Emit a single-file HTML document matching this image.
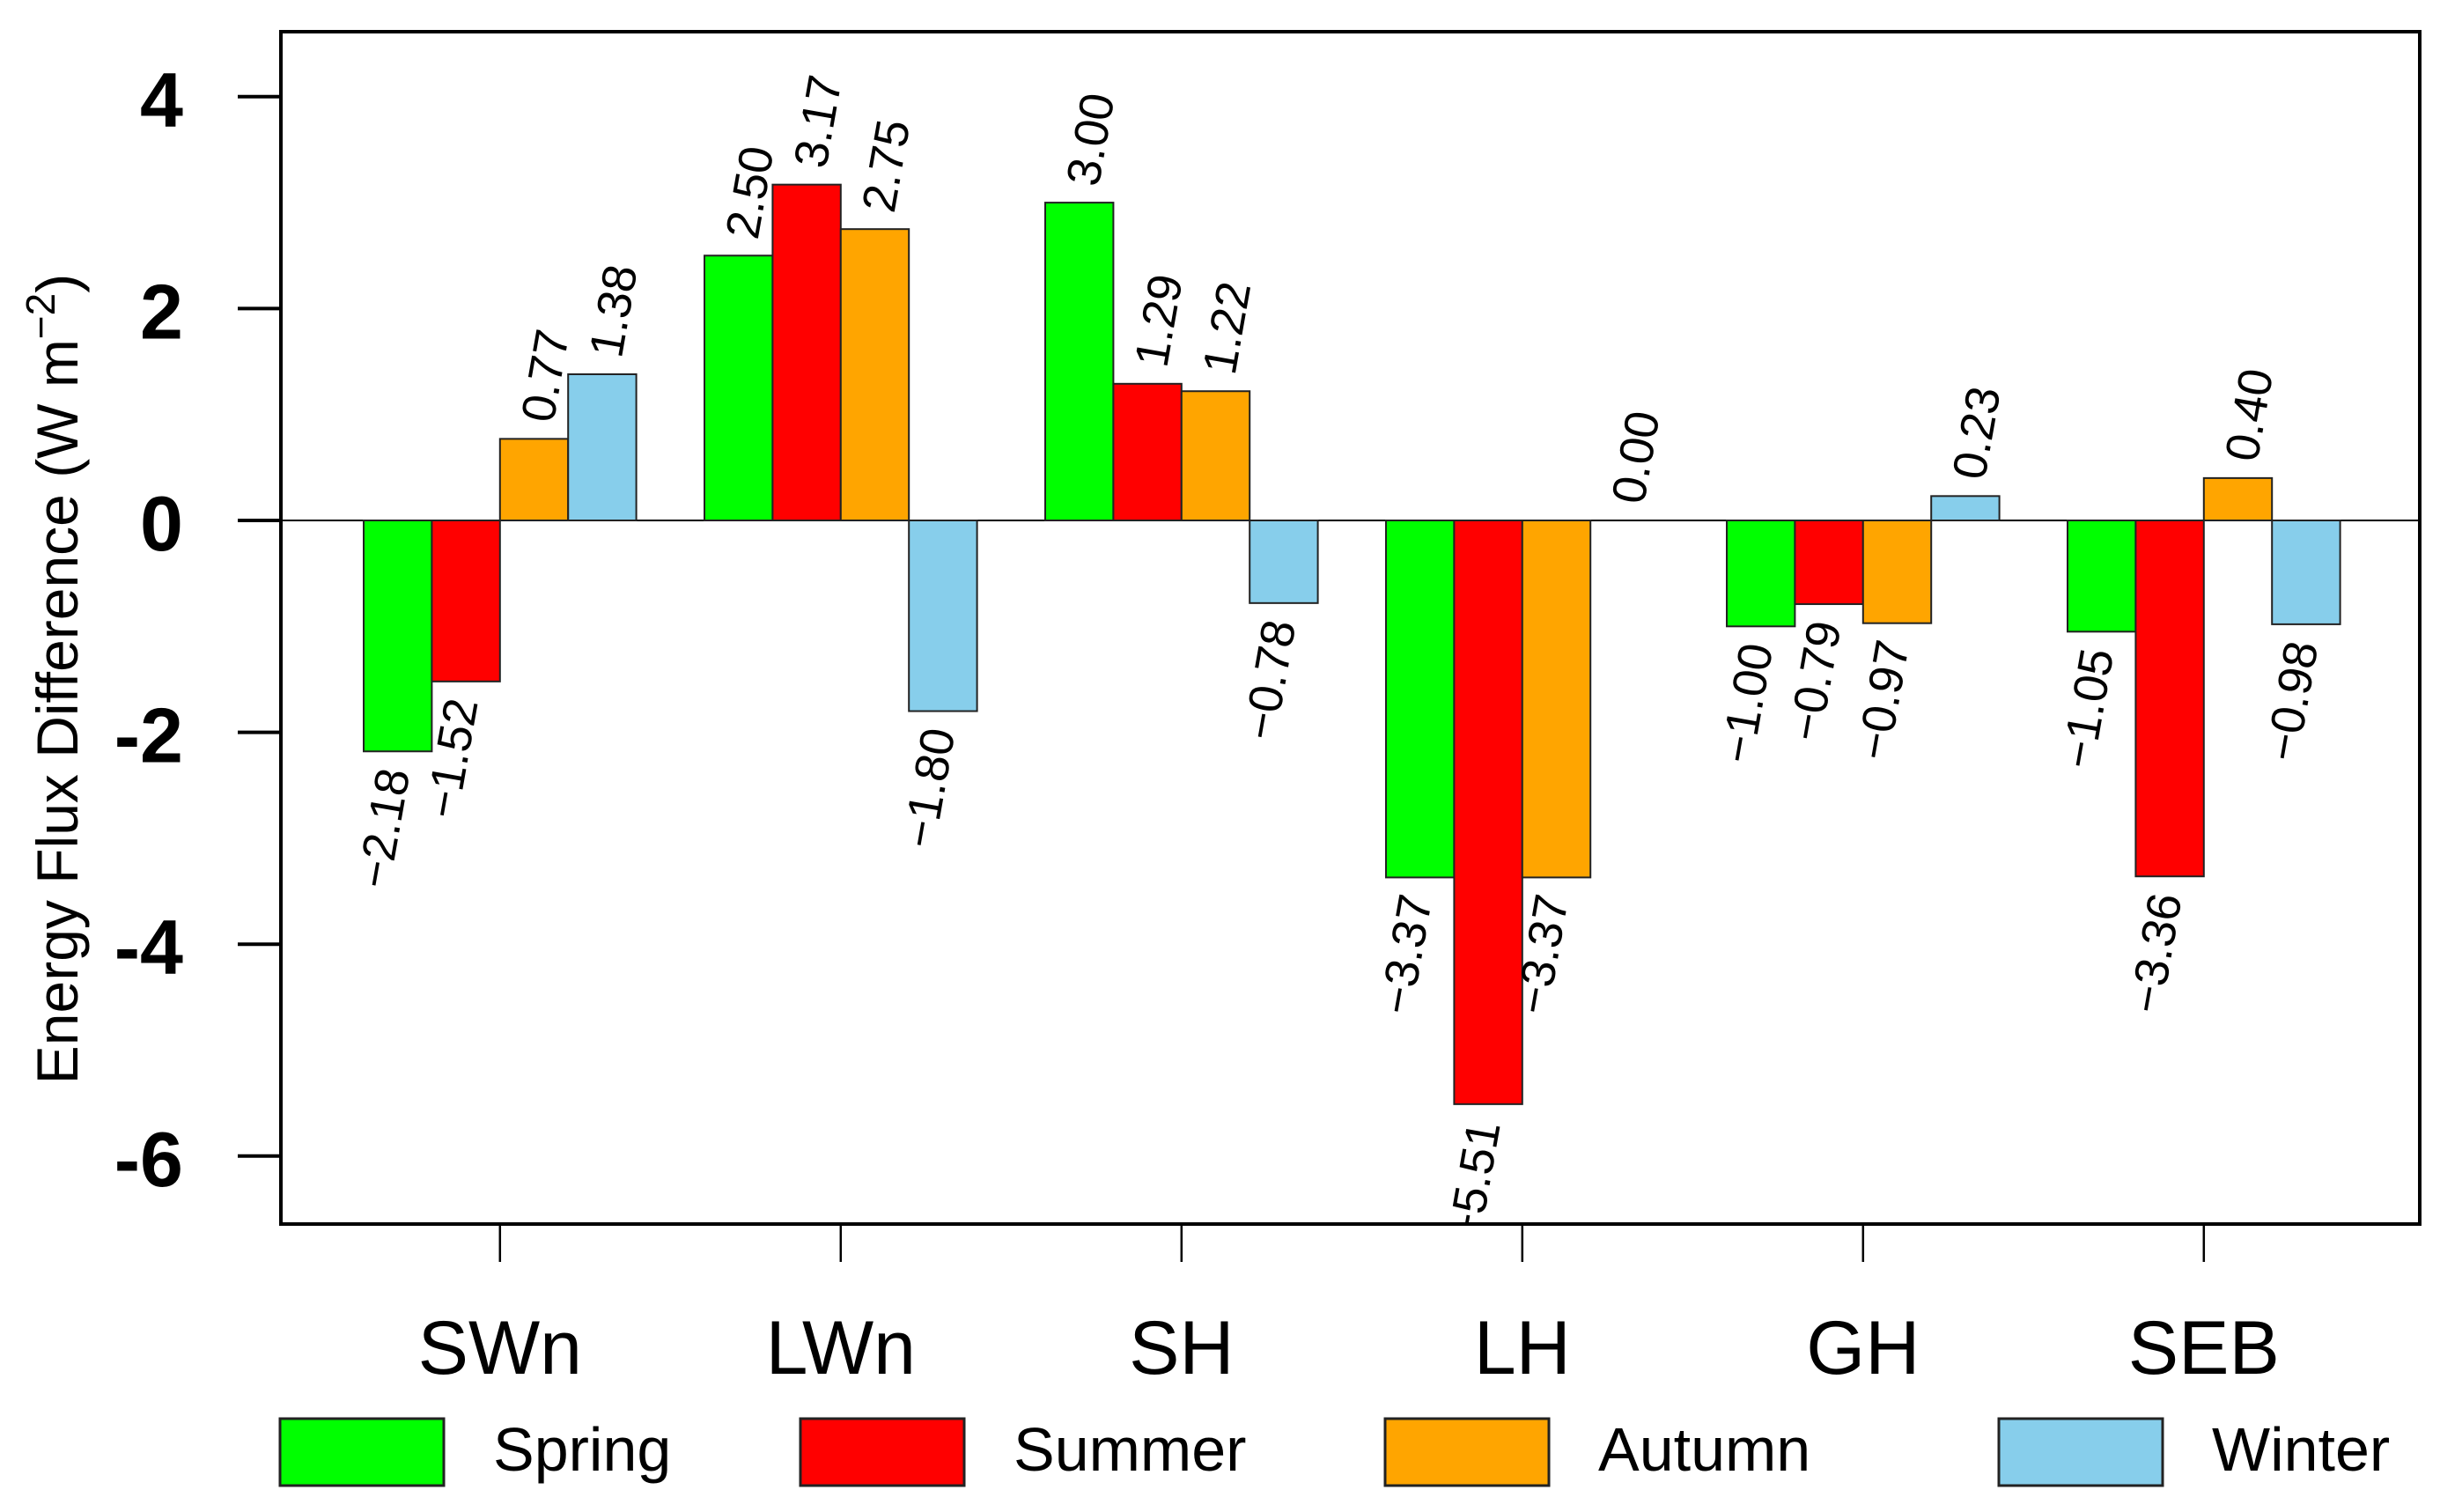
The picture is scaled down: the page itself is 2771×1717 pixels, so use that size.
<!DOCTYPE html>
<html><head><meta charset="utf-8"><style>
html,body{margin:0;padding:0;background:#fff;}
svg{display:block;font-family:"Liberation Sans",Arial,sans-serif;}
</style></head><body>
<svg id="chart" width="2771" height="1717" viewBox="0 0 2771 1717" xmlns="http://www.w3.org/2000/svg">
<defs><clipPath id="plotclip"><rect x="319" y="36" width="2429" height="1354"/></clipPath></defs>
<rect x="0" y="0" width="2771" height="1717" fill="#fff"/>
<g id="bars"></g>
<g id="labels" clip-path="url(#plotclip)"></g>
<g id="axes"></g>
<rect x="319" y="36" width="2429" height="1354" fill="none" stroke="#000" stroke-width="4"/>
<text transform="translate(88,771) rotate(-90)" text-anchor="middle" font-size="66">Energy Flux Difference (W m<tspan dy="-26" font-size="46">−2</tspan><tspan dy="26">)</tspan></text>
<g id="legend"></g>
</svg>
<script>
const categories = ["SWn","LWn","SH","LH","GH","SEB"];
const seasons = ["Spring","Summer","Autumn","Winter"];
const spring = [-2.18, 2.50, 3.00, -3.37, -1.00, -1.05];
const summer = [-1.52, 3.17, 1.29, -5.51, -0.79, -3.36];
const autumn = [0.77, 2.75, 1.22, -3.37, -0.97, 0.40];
const winter = [1.38, -1.80, -0.78, 0.00, 0.23, -0.98];
const yTicks = [-6, -4, -2, 0, 2, 4];
const colors = ["#00ff00","#ff0000","#ffa500","#87ceeb"];
const series = [spring, summer, autumn, winter];

const NS = "http://www.w3.org/2000/svg";
const X0 = 335.6, UNIT = 77.4;
function xBar(g, s){ return X0 + (g*5 + 1 + s)*UNIT; }
function xCenter(g){ return X0 + (g*5 + 3)*UNIT; }
function y(v){ return 591 - v*120.3; }
function mk(tag, attrs, parent){ const e=document.createElementNS(NS,tag); for(const k in attrs) e.setAttribute(k,attrs[k]); parent.appendChild(e); return e; }

const gb=document.getElementById('bars'), gl=document.getElementById('labels'), ga=document.getElementById('axes'), gleg=document.getElementById('legend');

const zl = mk('line',{x1:319,x2:2748,y1:y(0),y2:y(0),stroke:'#000','stroke-width':2},gb);



series.forEach((vals, s)=>{
  vals.forEach((v, g)=>{
    const x=xBar(g,s), top=Math.min(y(v),y(0)), h=Math.abs(y(v)-y(0));
    const r=mk('rect',{x:x,y:top,width:UNIT,height:h,fill:colors[s],stroke:'#222','stroke-width':2},gb);
    
    
    const cx=x+UNIT/2;
    const txt=(v<0?'−':'')+Math.abs(v).toFixed(2);
    let t;
    if(v>=0){
      t=mk('text',{transform:`translate(${cx+4},${y(v)-20}) rotate(-80)`,'text-anchor':'start','dominant-baseline':'central','font-size':54},gl);
    } else {
      t=mk('text',{transform:`translate(${cx-4},${y(v)+20}) rotate(-80)`,'text-anchor':'end','dominant-baseline':'central','font-size':54},gl);
    }
    t.textContent=txt;
    
    
  });
});

yTicks.forEach(v=>{
  const l=mk('line',{x1:270,x2:319,y1:y(v),y2:y(v),stroke:'#000','stroke-width':4},ga);
  
  
  const t=mk('text',{x:208,y:y(v)+34,'text-anchor':'end','font-size':88,'font-weight':'bold'},ga);
  t.textContent=(v<0?'-':'')+Math.abs(v);
  
  
});

categories.forEach((c,g)=>{
  const cx=xCenter(g);
  const l=mk('line',{x1:cx,x2:cx,y1:1390,y2:1433,stroke:'#000','stroke-width':2.5},ga);
  
  
  const t=mk('text',{x:cx,y:1560,'text-anchor':'middle','font-size':86},ga);
  t.textContent=c;
  
  
});

const legBoxX=[318,909,1573,2270];
seasons.forEach((s,i)=>{
  const r=mk('rect',{x:legBoxX[i],y:1611,width:186,height:76,fill:colors[i],stroke:'#222','stroke-width':3},gleg);
  
  
  const t=mk('text',{x:legBoxX[i]+242,y:1670,'font-size':70},gleg);
  t.textContent=s;
  
  
});
</script>
</body></html>
